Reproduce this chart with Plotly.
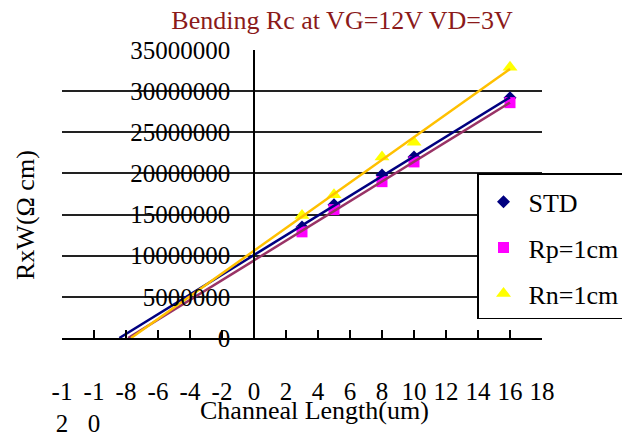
import numpy as np
import plotly.graph_objects as go

# Channel length (um) and width-normalised resistance R x W (ohm*cm)
channel_length = [3, 5, 8, 10, 16]
rxw_std = [13.5e6, 16.2e6, 19.8e6, 22.0e6, 29.2e6]
rxw_rp = [12.9e6, 15.6e6, 19.0e6, 21.4e6, 28.6e6]
rxw_rn = [14.9e6, 17.4e6, 22.0e6, 23.8e6, 32.9e6]

series_names = ["STD", "Rp=1cm", "Rn=1cm"]

x_tick_vals = list(range(-12, 19, 2))
x_tick_text = ["-1<br>2", "-1<br>0", "-8", "-6", "-4", "-2", "0", "2", "4",
               "6", "8", "10", "12", "14", "16", "18"]
y_tick_vals = [0, 5e6, 10e6, 15e6, 20e6, 25e6, 30e6, 35e6]
y_tick_text = ["0", "5000000", "10000000", "15000000", "20000000",
               "25000000", "30000000", "35000000"]

FONT = "Liberation Serif"

marker_styles = [
    dict(symbol="diamond", color="#000080", size=10),
    dict(symbol="square", color="#FF00FF", size=11),
    dict(symbol="triangle-up", color="#FFFF00", size=13),
]
trend_colors = ["#000080", "#993366", "#FFC000"]

fig = go.Figure()

# measured points
for i, (name, ys) in enumerate(zip(series_names, [rxw_std, rxw_rp, rxw_rn])):
    fig.add_trace(go.Scatter(
        x=channel_length, y=ys, mode="markers", name=name,
        marker=dict(symbol=marker_styles[i]["symbol"],
                    color=marker_styles[i]["color"],
                    size=marker_styles[i]["size"], line=dict(width=0)),
        legendgroup=name,
    ))

# linear trendlines, extended back to where they reach zero resistance
for i, ys in enumerate([rxw_std, rxw_rp, rxw_rn]):
    slope, intercept = np.polyfit(channel_length, ys, 1)
    x_start = -intercept / slope
    xs = np.array([x_start, max(channel_length)])
    fig.add_trace(go.Scatter(
        x=xs, y=slope * xs + intercept, mode="lines",
        line=dict(color=trend_colors[i], width=2.5),
        showlegend=False, hoverinfo="skip",
    ))

fig.update_layout(
    width=622, height=433,
    margin=dict(l=62, r=80, t=50, b=95, autoexpand=False),
    paper_bgcolor="white", plot_bgcolor="white",
    font=dict(family=FONT, size=26, color="black"),
    showlegend=True,
    legend=dict(
        x=(477 - 62) / 480, y=(338 - 173) / 288, xanchor="left", yanchor="top",
        bgcolor="white", bordercolor="black", borderwidth=1.5,
        font=dict(family=FONT, size=26, color="black"),
        tracegroupgap=9, traceorder="grouped", itemwidth=40,
        title=dict(text=" ", font=dict(family=FONT, size=3)),
    ),
    title=dict(
        text="Bending Rc at VG=12V VD=3V",
        font=dict(family=FONT, size=26, color="#8B1A1A"),
        x=342 / 622, xanchor="center", y=1 - 20 / 433, yanchor="middle",
    ),
    xaxis=dict(
        range=[-12, 18], domain=[0, 1], automargin=False,
        tickmode="array", tickvals=x_tick_vals, ticktext=x_tick_text,
        ticks="inside", ticklen=8, tickwidth=1.5, tickcolor="black",
        showline=True, linecolor="black", linewidth=1.5,
        showgrid=False, zeroline=False,
        ticklabelstandoff=30,
        tickfont=dict(family=FONT, size=25, color="black"),
    ),
    yaxis=dict(
        range=[0, 35e6], anchor="free", position=0.4, automargin=False,
        tickmode="array", tickvals=y_tick_vals, ticktext=y_tick_text,
        ticks="outside", ticklen=18, tickcolor="rgba(0,0,0,0)",
        showline=True, linecolor="black", linewidth=1.5,
        showgrid=True, gridcolor="#222222", gridwidth=1.5,
        zeroline=False,
        tickfont=dict(family=FONT, size=25, color="black"),
    ),
    annotations=[
        dict(text="Channeal Length(um)", xref="paper", yref="paper",
             x=(314 - 62) / 480, y=-(410 - 338) / 288,
             xanchor="center", yanchor="middle", showarrow=False,
             font=dict(family=FONT, size=26, color="black")),
        dict(text="RxW(Ω cm)", xref="paper", yref="paper",
             x=(25 - 62) / 480, y=(338 - 215) / 288, textangle=-90,
             xanchor="center", yanchor="middle", showarrow=False,
             font=dict(family=FONT, size=26, color="black")),
    ],
)

fig.write_html("out.html")
